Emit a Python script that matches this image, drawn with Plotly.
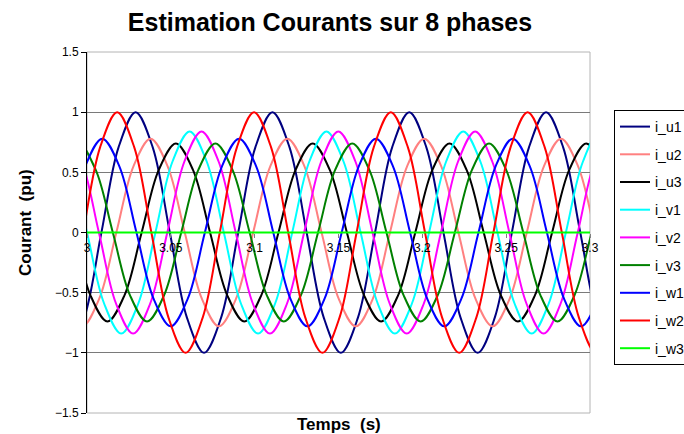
import plotly.graph_objects as go

# ---------------- data ----------------
names = ["i_u1", "i_u2", "i_u3", "i_v1", "i_v2", "i_v3", "i_w1", "i_w2", "i_w3"]
colors = ["#000080", "#FF8080", "#000000", "#00FFFF", "#FF00FF", "#008000",
          "#0000FF", "#FF0000", "#00FF00"]

t_u1 = [2.9882, 2.9984, 3.0086, 3.0188, 3.0290, 3.0392, 3.0494, 3.0596, 3.0698, 3.0800, 3.0902,
        3.1004, 3.1106, 3.1208, 3.1310, 3.1412, 3.1514, 3.1616, 3.1718, 3.1820, 3.1922, 3.2024,
        3.2126, 3.2228, 3.2330, 3.2432, 3.2534, 3.2636, 3.2738, 3.2840, 3.2942, 3.3044, 3.3146]
i_u1 = [-1, -0.707, 0, 0.707, 1, 0.707, 0, -0.707, -1, -0.707, 0, 0.707, 1, 0.707, 0, -0.707,
        -1, -0.707, 0, 0.707, 1, 0.707, 0, -0.707, -1, -0.707, 0, 0.707, 1, 0.707, 0, -0.707, -1]

t_u2 = [2.9869, 2.9971, 3.0073, 3.0175, 3.0277, 3.0379, 3.0481, 3.0583, 3.0685, 3.0787, 3.0889,
        3.0991, 3.1093, 3.1195, 3.1297, 3.1399, 3.1501, 3.1603, 3.1705, 3.1807, 3.1909, 3.2011,
        3.2113, 3.2215, 3.2317, 3.2419, 3.2521, 3.2623, 3.2725, 3.2827, 3.2929, 3.3031, 3.3133]
i_u2 = [-0.55, -0.78, -0.55, 0, 0.55, 0.78, 0.55, 0, -0.55, -0.78, -0.55, 0, 0.55, 0.78, 0.55, 0,
        -0.55, -0.78, -0.55, 0, 0.55, 0.78, 0.55, 0, -0.55, -0.78, -0.55, 0, 0.55, 0.78, 0.55, 0,
        -0.55]

t_u3 = [2.9816, 2.9918, 3.0020, 3.0122, 3.0224, 3.0326, 3.0428, 3.0530, 3.0632, 3.0734, 3.0836,
        3.0938, 3.1040, 3.1142, 3.1244, 3.1346, 3.1448, 3.1550, 3.1652, 3.1754, 3.1856, 3.1958,
        3.2060, 3.2162, 3.2264, 3.2366, 3.2468, 3.2570, 3.2672, 3.2774, 3.2876, 3.2978, 3.3080,
        3.3182]
i_u3 = [0.52, 0, -0.52, -0.74, -0.52, 0, 0.52, 0.74, 0.52, 0, -0.52, -0.74, -0.52, 0, 0.52, 0.74,
        0.52, 0, -0.52, -0.74, -0.52, 0, 0.52, 0.74, 0.52, 0, -0.52, -0.74, -0.52, 0, 0.52, 0.74,
        0.52, 0]

t_v1 = [2.9898, 3.0000, 3.0102, 3.0204, 3.0306, 3.0408, 3.0510, 3.0612, 3.0714, 3.0816, 3.0918,
        3.1020, 3.1122, 3.1224, 3.1326, 3.1428, 3.1530, 3.1632, 3.1734, 3.1836, 3.1938, 3.2040,
        3.2142, 3.2244, 3.2346, 3.2448, 3.2550, 3.2652, 3.2754, 3.2856, 3.2958, 3.3060, 3.3162]
i_v1 = [0.59, 0, -0.59, -0.84, -0.59, 0, 0.59, 0.84, 0.59, 0, -0.59, -0.84, -0.59, 0, 0.59, 0.84,
        0.59, 0, -0.59, -0.84, -0.59, 0, 0.59, 0.84, 0.59, 0, -0.59, -0.84, -0.59, 0, 0.59, 0.84,
        0.59]

t_v2 = [2.9867, 2.9969, 3.0071, 3.0173, 3.0275, 3.0377, 3.0479, 3.0581, 3.0683, 3.0785, 3.0887,
        3.0989, 3.1091, 3.1193, 3.1295, 3.1397, 3.1499, 3.1601, 3.1703, 3.1805, 3.1907, 3.2009,
        3.2111, 3.2213, 3.2315, 3.2417, 3.2519, 3.2621, 3.2723, 3.2825, 3.2927, 3.3029, 3.3131]
i_v2 = [0.84, 0.59, 0, -0.59, -0.84, -0.59, 0, 0.59, 0.84, 0.59, 0, -0.59, -0.84, -0.59, 0, 0.59,
        0.84, 0.59, 0, -0.59, -0.84, -0.59, 0, 0.59, 0.84, 0.59, 0, -0.59, -0.84, -0.59, 0, 0.59,
        0.84]

t_v3 = [2.9848, 2.9950, 3.0052, 3.0154, 3.0256, 3.0358, 3.0460, 3.0562, 3.0664, 3.0766, 3.0868,
        3.0970, 3.1072, 3.1174, 3.1276, 3.1378, 3.1480, 3.1582, 3.1684, 3.1786, 3.1888, 3.1990,
        3.2092, 3.2194, 3.2296, 3.2398, 3.2500, 3.2602, 3.2704, 3.2806, 3.2908, 3.3010, 3.3112]
i_v3 = [0.52, 0.74, 0.52, 0, -0.52, -0.74, -0.52, 0, 0.52, 0.74, 0.52, 0, -0.52, -0.74, -0.52, 0,
        0.52, 0.74, 0.52, 0, -0.52, -0.74, -0.52, 0, 0.52, 0.74, 0.52, 0, -0.52, -0.74, -0.52, 0,
        0.52]

t_w1 = [2.9887, 2.9989, 3.0091, 3.0193, 3.0295, 3.0397, 3.0499, 3.0601, 3.0703, 3.0805, 3.0907,
        3.1009, 3.1111, 3.1213, 3.1315, 3.1417, 3.1519, 3.1621, 3.1723, 3.1825, 3.1927, 3.2029,
        3.2131, 3.2233, 3.2335, 3.2437, 3.2539, 3.2641, 3.2743, 3.2845, 3.2947, 3.3049, 3.3151]
i_w1 = [0, 0.55, 0.78, 0.55, 0, -0.55, -0.78, -0.55, 0, 0.55, 0.78, 0.55, 0, -0.55, -0.78, -0.55,
        0, 0.55, 0.78, 0.55, 0, -0.55, -0.78, -0.55, 0, 0.55, 0.78, 0.55, 0, -0.55, -0.78, -0.55, 0]

t_w2 = [2.9874, 2.9976, 3.0078, 3.0180, 3.0282, 3.0384, 3.0486, 3.0588, 3.0690, 3.0792, 3.0894,
        3.0996, 3.1098, 3.1200, 3.1302, 3.1404, 3.1506, 3.1608, 3.1710, 3.1812, 3.1914, 3.2016,
        3.2118, 3.2220, 3.2322, 3.2424, 3.2526, 3.2628, 3.2730, 3.2832, 3.2934, 3.3036, 3.3138]
i_w2 = [-0.707, 0, 0.707, 1, 0.707, 0, -0.707, -1, -0.707, 0, 0.707, 1, 0.707, 0, -0.707, -1,
        -0.707, 0, 0.707, 1, 0.707, 0, -0.707, -1, -0.707, 0, 0.707, 1, 0.707, 0, -0.707, -1,
        -0.707]

t_w3 = [3.0, 3.3]
i_w3 = [0, 0]

series_t = [t_u1, t_u2, t_u3, t_v1, t_v2, t_v3, t_w1, t_w2, t_w3]
series_v = [i_u1, i_u2, i_u3, i_v1, i_v2, i_v3, i_w1, i_w2, i_w3]

x_range = [3.0, 3.3]
y_range = [-1.5, 1.5]

FONT = "Liberation Sans, Arial, sans-serif"
W, H = 684, 434

# ---------------- figure ----------------
fig = go.Figure()
for n, c, tt, vv in zip(names, colors, series_t, series_v):
    fig.add_trace(go.Scatter(
        x=tt, y=vv, name=n, mode="lines", legendgroup=n,
        line=dict(color=c, width=2, shape="spline", smoothing=1.0),
        hoverinfo="skip",
    ))

fig.update_layout(
    width=W, height=H,
    margin=dict(l=87, r=94, t=52, b=21, autoexpand=False),
    paper_bgcolor="white", plot_bgcolor="white",
    font=dict(family=FONT, size=12, color="#000000"),
    title=dict(text="<b>Estimation Courants sur 8 phases</b>",
               font=dict(family=FONT, size=25, color="#000000"),
               x=330 / W, xref="container", xanchor="center",
               y=1 - 22 / H, yref="container", yanchor="middle"),
    showlegend=True,
    legend=dict(x=(614 - 87) / 503, y=(413 - 110) / 361, xanchor="left", yanchor="top",
                bordercolor="#000000", borderwidth=1, bgcolor="white",
                font=dict(family=FONT, size=14, color="#000000"),
                tracegroupgap=6.5, itemwidth=30),
    xaxis=dict(range=x_range, dtick=0.05, tick0=3.0, showgrid=False,
               zeroline=False, showline=False,
               anchor="free", position=0.5,
               ticks="outside", ticklen=4, tickcolor="#808080",
               tickfont=dict(family=FONT, size=12, color="#000000")),
    yaxis=dict(range=y_range, dtick=0.5, showgrid=True, gridcolor="#7a7a7a",
               gridwidth=1, zeroline=False, showline=True, linecolor="#000000",
               linewidth=1, ticks="outside", ticklen=5, tickcolor="#000000",
               tickfont=dict(family=FONT, size=12, color="#000000")),
    shapes=[dict(type="rect", xref="paper", yref="paper", x0=0, x1=1, y0=0, y1=1,
                 line=dict(color="#b4b4b4", width=1), layer="below")],
    annotations=[
        dict(text="<b>Courant\u00a0 (pu)</b>", xref="paper", yref="paper",
             x=(25 - 87) / 503, y=(413 - 223) / 361, textangle=-90,
             showarrow=False, xanchor="center", yanchor="middle",
             font=dict(family=FONT, size=17, color="#000000")),
        dict(text="<b>Temps\u00a0 (s)</b>", xref="paper", yref="paper",
             x=(339 - 87) / 503, y=(413 - 425) / 361,
             showarrow=False, xanchor="center", yanchor="middle",
             font=dict(family=FONT, size=17, color="#000000")),
    ],
)

fig.write_html(
    "out.html",
    config={"displayModeBar": False, "staticPlot": True},
    post_script="document.body.style.margin='0px';document.body.style.overflow='hidden';",
)
